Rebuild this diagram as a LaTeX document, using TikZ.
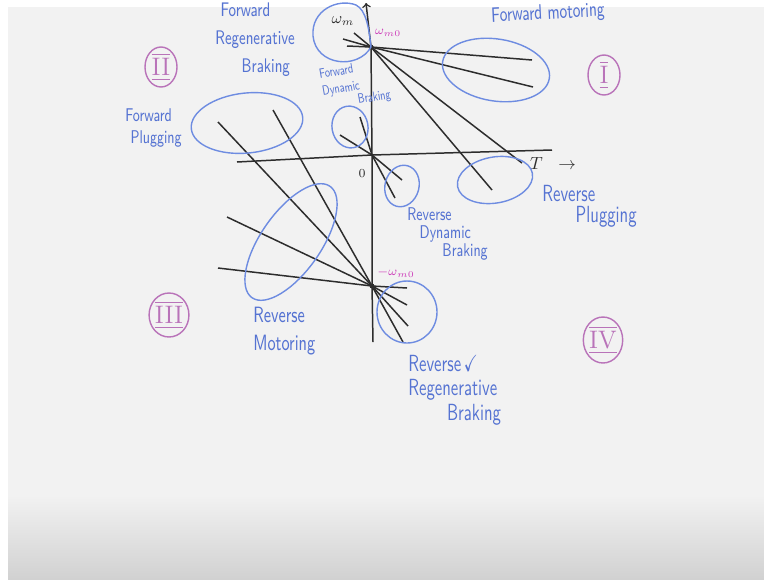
\documentclass[tikz,border=0pt]{standalone}
\usepackage{amssymb}
\usepackage{graphicx}
\usetikzlibrary{shapes.geometric}
\definecolor{ink}{RGB}{45,45,45}
\definecolor{pen}{RGB}{85,115,210}
\definecolor{loopblue}{RGB}{110,140,225}
\definecolor{rose}{RGB}{185,115,185}
\definecolor{mag}{RGB}{205,60,185}
\definecolor{page}{RGB}{242,242,242}
\newcommand{\tall}[1]{\scalebox{1}[1.4]{#1}}

\begin{document}
\begin{tikzpicture}[x=0.02cm,y=-0.02cm,
  char/.style={ink, line width=0.85pt},
  zone/.style={loopblue, line width=0.8pt},
  hand/.style={pen, align=left, inner sep=0pt, anchor=west},
  quad/.style={draw=rose, text=rose, ellipse, line width=0.8pt, inner sep=0pt,
    minimum width=0.64cm, minimum height=0.8cm, font=\fontsize{14}{14}\selectfont}]

                \useasboundingbox (0,0) rectangle (764,579);
                \fill[white] (0,0) rectangle (764,579);
                \fill[page] (8,7) rectangle (764,579);
                \shade[top color=page, bottom color=black!18] (8,495) rectangle (764,579);

                \coordinate (wp) at (371,47);
                \coordinate (O) at (372,155);
                \coordinate (wn) at (372,286);

                \draw [char, ->] (373,342) -- (wn) -- (O) -- (wp) -- (366,3);
                \draw [char] (237,162) -- (O) -- (552,150);
                \node [ink, font=\fontsize{9}{9}\selectfont] (wm) at (343,21) {$\omega_m$};
                \node [ink, font=\fontsize{7}{7}\selectfont] (zero) at (362,174) {$0$};
                \node [ink, font=\fontsize{10}{10}\selectfont] (tq) at (553,163) {$T\hspace{6pt}\rightarrow$};
                \node [mag, font=\fontsize{7}{7}\selectfont] (wmo) at (388,33) {$\omega_{m0}$};
                \node [mag, font=\fontsize{7}{7}\selectfont] (wmn) at (396,273) {$-\omega_{m0}$};

                \draw [char] (347,46) -- (wp) -- (532,60);
                \draw [char] (343,39) -- (wp) -- (533,87);
                \draw [char] (354,33) -- (wp) -- (522,163);
                \draw [char] (wp) -- (492,190);
                \draw [char] (340,135) -- (O) -- (402,180);
                \draw [char] (360,117) -- (O) -- (395,198);
                \draw [char] (218,122) -- (wn) -- (408,326);
                \draw [char] (273,110) -- (wn) -- (403,342);
                \draw [char] (227,217) -- (wn) -- (407,305);
                \draw [char] (218,268) -- (wn) -- (407,288);
                \fill [ink] (wp) circle (2.5);
                \fill [ink] (wn) circle (2.5);

                \draw [zone] (371,47) .. controls (358,70) and (316,66) .. (313,36) .. controls (311,10) and (338,-2) .. (356,5) .. controls (366,10) and (369,28) .. (371,47);
                \draw [zone, rotate around={-9:(496,70)}] (496,70) ellipse (54 and 31);
                \draw [zone, rotate around={6:(247,123)}] (247,123) ellipse (56 and 30);
                \draw [zone, rotate around={10:(350,127)}] (350,127) ellipse (18 and 21);
                \draw [zone, rotate around={-15:(402,186)}] (402,186) ellipse (17 and 21);
                \draw [zone, rotate around={10:(495,180)}] (495,180) ellipse (38 and 23);
                \draw [zone, rotate around={55:(291,242)}] (291,242) ellipse (68 and 30);
                \draw [zone] (407,312) ellipse (30 and 31);

                \node [hand, font=\sffamily\fontsize{8}{16}\selectfont] (frb) at (215,40) {\hspace*{3pt}\tall{Forward}\\\tall{Regenerative}\\\hspace*{15pt}\tall{Braking}};
                \node [hand, anchor=center, rotate=3, font=\sffamily\fontsize{8.5}{10}\selectfont] (fm) at (548,14) {\tall{Forward motoring}};
                \node [hand, font=\sffamily\fontsize{7.5}{12}\selectfont] (fp) at (125,128) {\tall{Forward}\\\hspace*{3pt}\tall{Plugging}};
                \node [hand, rotate=10, font=\sffamily\fontsize{5.5}{10}\selectfont] (fdb) at (322,91) {\tall{Forward}\\\tall{Dynamic}\\[-2pt]\hspace*{19pt}\tall{Braking}};
                \node [hand, font=\sffamily\fontsize{7.5}{10}\selectfont] (rdb) at (407,234) {\tall{Reverse}\\\hspace*{7pt}\tall{Dynamic}\\\hspace*{20pt}\tall{Braking}};
                \node [hand, font=\sffamily\fontsize{9.5}{12}\selectfont] (rp) at (542,206) {\tall{Reverse}\\\hspace*{19pt}\tall{Plugging}};
                \node [hand, font=\sffamily\fontsize{9}{16}\selectfont] (rm) at (253,331) {\tall{Reverse}\\\tall{Motoring}};
                \node [hand, font=\sffamily\fontsize{9.5}{14}\selectfont] (rrb) at (408,390) {\tall{Reverse\,$\checkmark$}\\\tall{Regenerative}\\\hspace*{22pt}\tall{Braking}};

                \node [quad] (q1) at (604,75) {$\overline{\underline{\mathrm{I}}}$};
                \node [quad] (q2) at (161,67) {$\overline{\underline{\mathrm{II}}}$};
                \node [quad, minimum width=0.74cm, minimum height=0.88cm] (q3) at (169,315) {$\overline{\underline{\mathrm{III}}}$};
                \node [quad, minimum width=0.7cm, minimum height=0.92cm] (q4) at (603,340) {$\overline{\underline{\mathrm{IV}}}$};

            \end{tikzpicture}
\end{document}
